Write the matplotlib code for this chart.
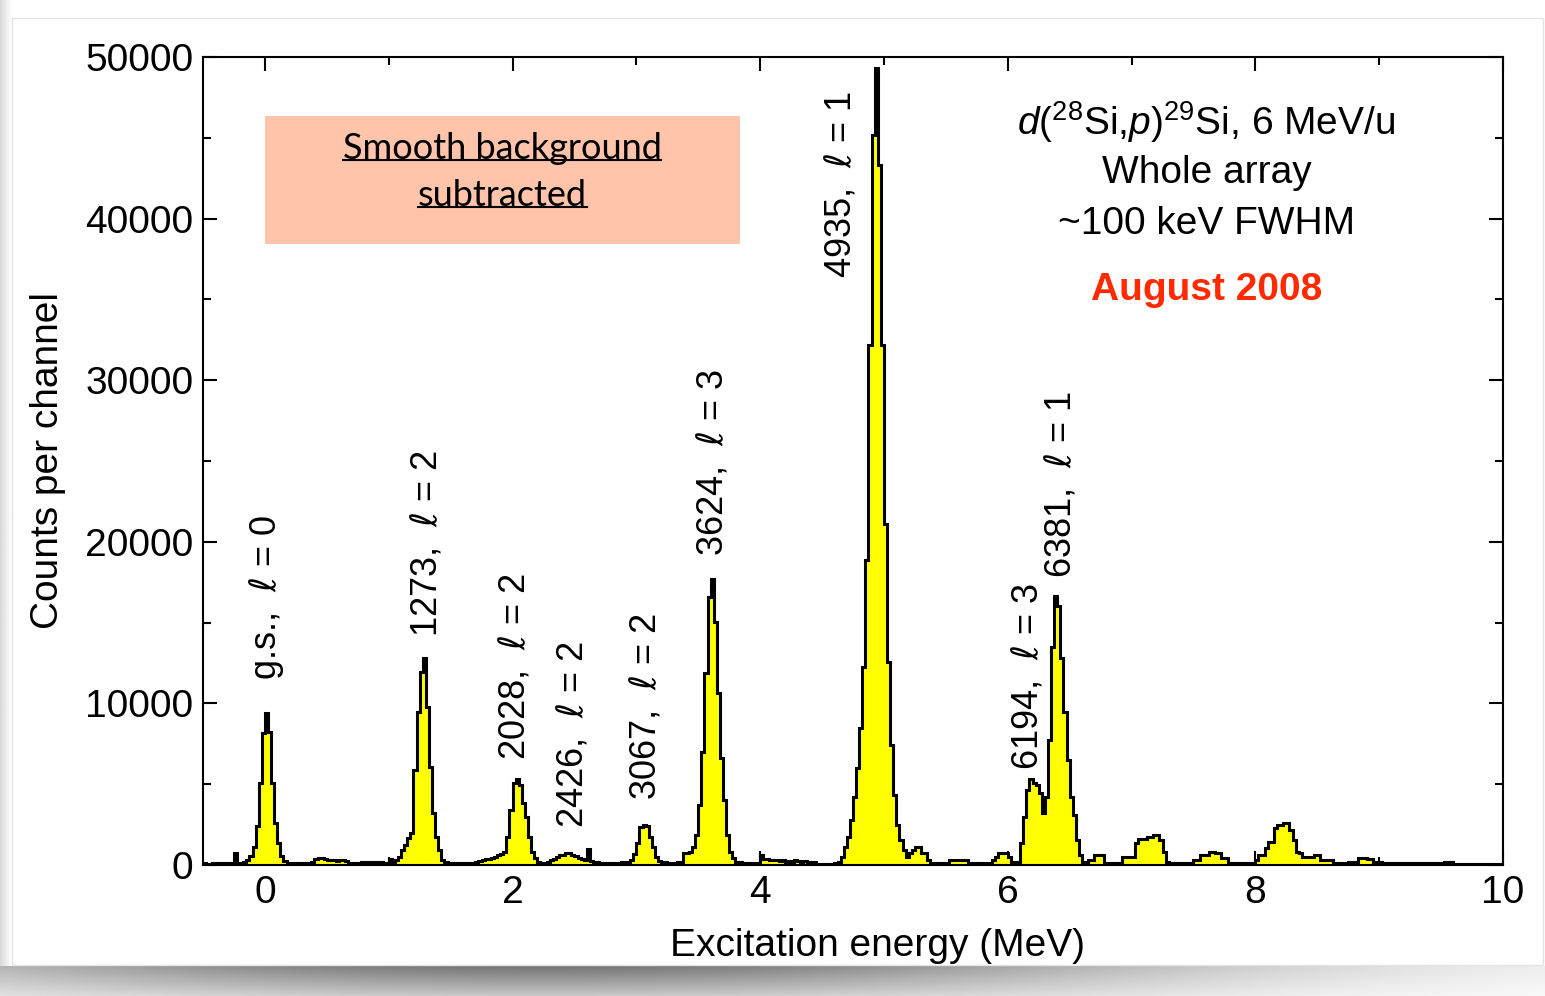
import numpy as np
import matplotlib.pyplot as plt
from matplotlib.ticker import MultipleLocator
from matplotlib.lines import Line2D

plt.rcParams['font.family'] = ['Liberation Sans', 'DejaVu Sans']
plt.rcParams['mathtext.fontset'] = 'custom'
plt.rcParams['mathtext.rm'] = 'Liberation Sans'
plt.rcParams['mathtext.it'] = 'DejaVu Sans:italic'
plt.rcParams['mathtext.sf'] = 'Liberation Sans:italic'
plt.rcParams['mathtext.bf'] = 'Liberation Sans:bold'

# spectrum: counts per 25 keV channel, starting at -0.5 MeV
E_MIN = -0.5
BIN_WIDTH = 0.025
COUNTS = [
    # -0.5 .. 0.0
    100, 90, 80, 100, 90, 100, 80, 100, 110, 100, 760, 150, 120, 200, 300, 560, 1130, 2400, 5070, 8190,
    # 0.0 .. 0.5
    9400, 8250, 5070, 2600, 1380, 570, 250, 150, 120, 100, 100, 100, 120, 100, 150, 200, 350, 410, 410, 350,
    # 0.5 .. 1.0
    300, 300, 300, 280, 300, 300, 280, 150, 150, 150, 150, 200, 200, 200, 200, 180, 200, 200, 150, 150,
    # 1.0 .. 1.5
    350, 200, 300, 500, 930, 1240, 1670, 2000, 5880, 9490, 11960, 12780, 9800, 6080, 3200, 1750, 930, 310, 200, 150,
    # 1.5 .. 2.0
    100, 100, 100, 100, 120, 120, 150, 150, 200, 250, 300, 350, 400, 430, 510, 640, 700, 820, 1750, 3400,
    # 2.0 .. 2.5
    5070, 5300, 4950, 3830, 3000, 1750, 820, 430, 200, 150, 150, 200, 300, 350, 500, 600, 650, 720, 720, 650,
    # 2.5 .. 3.0
    550, 450, 400, 300, 1000, 250, 200, 200, 150, 150, 150, 120, 100, 100, 150, 200, 200, 200, 300, 700,
    # 3.0 .. 3.5
    1340, 2370, 2470, 2400, 1750, 1130, 510, 250, 200, 200, 100, 100, 100, 200, 200, 720, 720, 820, 1130, 1860,
    # 3.5 .. 4.0
    3710, 7010, 11860, 16600, 17680, 15060, 10620, 6600, 4020, 1860, 820, 410, 200, 200, 150, 100, 100, 100, 100, 100,
    # 4.0 .. 4.5
    620, 350, 350, 300, 300, 300, 250, 300, 200, 250, 200, 300, 250, 200, 250, 200, 150, 200, 50, 50,
    # 4.5 .. 5.0
    50, 50, 50, 50, 100, 200, 510, 1130, 1750, 2780, 4230, 5980, 8460, 12270, 18870, 32180, 45170, 49300, 43320, 32180,
    # 5.0 .. 5.5
    21130, 12580, 7430, 4330, 2470, 1550, 930, 510, 720, 900, 1130, 1130, 720, 720, 300, 150, 150, 150, 150, 150,
    # 5.5 .. 6.0
    150, 300, 300, 300, 300, 300, 300, 150, 150, 150, 150, 150, 150, 150, 150, 300, 500, 720, 720, 720,
    # 6.0 .. 6.5
    500, 200, 200, 100, 1340, 3000, 4640, 5300, 5100, 4950, 4430, 3200, 4230, 7740, 13500, 16650, 16000, 12800, 9490, 6500,
    # 6.5 .. 7.0
    4230, 3090, 1550, 620, 200, 200, 300, 300, 620, 620, 620, 100, 100, 100, 100, 100, 100, 500, 500, 500,
    # 7.0 .. 7.5
    500, 1340, 1590, 1590, 1590, 1750, 1750, 1860, 1860, 1550, 830, 200, 100, 100, 100, 100, 100, 100, 100, 100,
    # 7.5 .. 8.0
    300, 300, 620, 620, 620, 820, 820, 720, 720, 410, 410, 100, 100, 100, 100, 100, 100, 100, 100, 100,
    # 8.0 .. 8.5
    300, 620, 620, 1030, 1440, 1440, 2270, 2480, 2480, 2580, 2580, 2170, 1550, 830, 720, 510, 510, 510, 510, 620,
    # 8.5 .. 9.0
    620, 300, 300, 300, 300, 100, 100, 100, 100, 100, 200, 200, 200, 410, 410, 410, 350, 350, 200, 200,
    # 9.0 .. 9.5
    200, 150, 150, 150, 150, 150, 150, 100, 100, 100, 100, 100, 100, 100, 100, 100, 100, 100, 100, 100,
    # 9.5 .. 10.0
    100, 200, 200, 200, 50, 50, 50, 50, 50, 50, 50, 50, 50, 50, 50, 50, 50, 50, 50, 50,
]

X_TICKS = [0, 2, 4, 6, 8, 10]
Y_TICKS = [0, 10000, 20000, 30000, 40000, 50000]

# level labels: energy (keV) and transferred angular momentum
LEVELS = ['g.s.', '1273', '2028', '2426', '3067', '3624', '4935', '6194', '6381']
L_VALUES = [0, 2, 2, 2, 2, 3, 1, 3, 1]
# where each rotated label starts (MeV, counts)
LABEL_X = [0.01, 1.31, 2.02, 2.49, 3.08, 3.62, 4.65, 6.16, 6.43]
LABEL_Y = [11450, 14110, 6500, 2290, 4020, 19120, 36320, 5880, 17760]

counts = np.array(COUNTS)
edges = E_MIN + BIN_WIDTH * np.arange(len(counts) + 1)

fig = plt.figure(figsize=(15.45, 9.96), dpi=100)
ax = fig.add_axes([0.1314, 0.1315, 0.8414, 0.8113])

ax.stairs(counts, edges, fill=True, color='#ffff00', zorder=2)
ax.stairs(counts, edges, color='black', linewidth=2.2, zorder=3)

ax.set_xlim(E_MIN, 10)
ax.set_ylim(0, 50000)
ax.set_xticks(X_TICKS)
ax.set_yticks(Y_TICKS)
ax.xaxis.set_minor_locator(MultipleLocator(1))
ax.yaxis.set_minor_locator(MultipleLocator(5000))
ax.tick_params(which='both', direction='in', top=True, right=True, width=1.5,
               labelsize=28)
ax.tick_params(which='major', length=10, pad=7)
ax.tick_params(which='minor', length=6)
for s in ax.spines.values():
    s.set_linewidth(1.5)

ax.set_xlabel('Excitation energy (MeV)', fontsize=28)
ax.xaxis.set_label_coords(0.5185, -0.078)
ax.set_ylabel('Counts per channel', fontsize=28, labelpad=14)

for lev, l, x, y in zip(LEVELS, L_VALUES, LABEL_X, LABEL_Y):
    ax.text(x, y, lev + r',  $\ell$ = ' + str(l), rotation=90, fontsize=26,
            ha='center', va='bottom', zorder=4)

# reaction info
info = [r'$\mathsf{d}$($^{28}$Si,$\mathsf{p}$)$^{29}$Si, 6 MeV/u', 'Whole array',
        '~100 keV FWHM']
for txt, yy in zip(info, [0.9196, 0.8564, 0.7933]):
    ax.text(0.772, yy, txt, transform=ax.transAxes, fontsize=28,
            ha='center', va='center')
ax.text(0.772, 0.7116, 'August 2008', transform=ax.transAxes, fontsize=28,
        fontweight='bold', color='#ff2a00', ha='center', va='center')

# note box
ax.add_patch(plt.Rectangle((0.0477, 0.7686), 0.3653, 0.1584, transform=ax.transAxes,
                           facecolor='#ffc4aa', edgecolor='none', zorder=1))
notes = []
for txt, yy in zip(['Smooth background', 'subtracted'], [0.887, 0.828]):
    notes.append(ax.text(0.23, yy, txt, transform=ax.transAxes, fontsize=26,
                         family='Lato', ha='center', va='center', zorder=4))

# slide frame and drop shadow
shadow = fig.add_axes([0, 0, 1, 30 / 996], zorder=-1)
gx = np.linspace(0, 1, 300)
gy = np.linspace(0, 1, 30)[:, None]
depth = 0.55 * np.exp(-((gx - 0.35) / 0.45) ** 2)[None, :] * (1 - gy * 0.6)
shadow.imshow(1 - depth, cmap='gray', vmin=0, vmax=1, aspect='auto',
              extent=[0, 1, 0, 1])
shadow.axis('off')
side = fig.add_axes([0, 30 / 996, 12 / 1545, 1 - 30 / 996], zorder=-1)
side.imshow(np.linspace(0.85, 1, 20)[None, :], cmap='gray', vmin=0, vmax=1,
            aspect='auto', extent=[0, 1, 0, 1])
side.axis('off')
fig.add_artist(plt.Rectangle((12 / 1545, 31 / 996), 1531 / 1545, 947 / 996,
                             transform=fig.transFigure, facecolor='none',
                             edgecolor='#e4e4e4', linewidth=1))

# underline the note text
fig.canvas.draw()
r = fig.canvas.get_renderer()
inv = fig.transFigure.inverted()
for t in notes:
    bb = t.get_window_extent(r)
    (x0, y0), (x1, _) = inv.transform([(bb.x0, bb.y0 + 5), (bb.x1, bb.y0)])
    fig.add_artist(Line2D([x0, x1], [y0, y0], color='black', linewidth=1.5,
                          transform=fig.transFigure))

fig.savefig('out.png', dpi=100)
